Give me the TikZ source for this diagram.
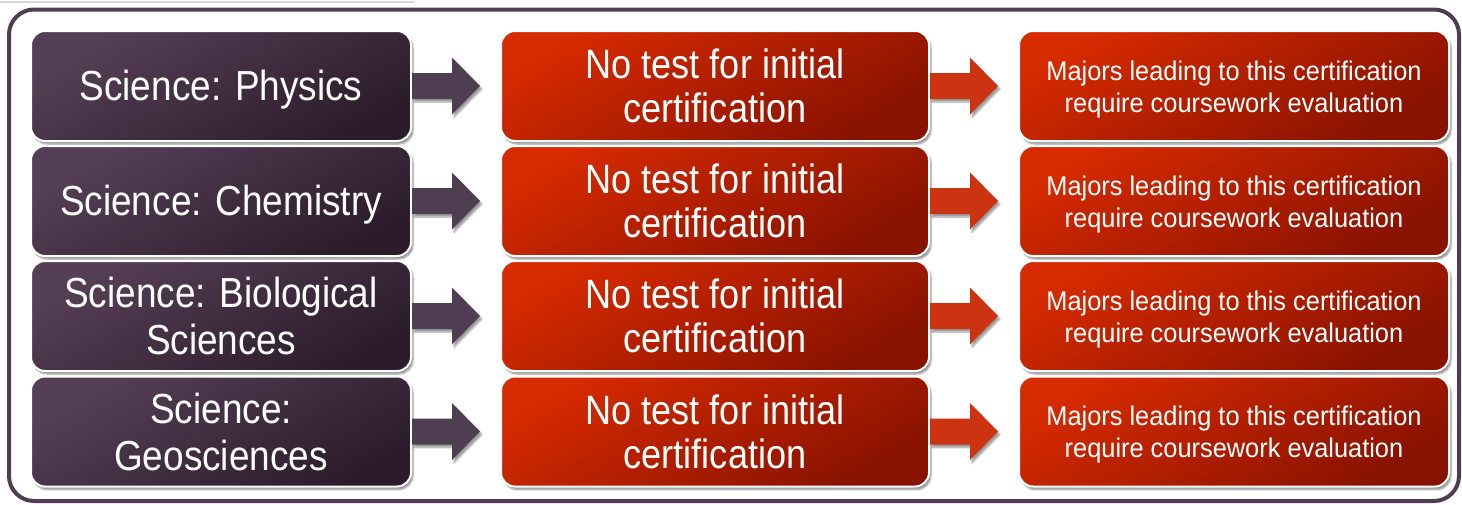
\documentclass[tikz,border=0pt]{standalone}
\usepackage{fontspec}
\newfontfamily\boxfont{Liberation Sans}[FakeStretch=0.88]
\newfontfamily\notefont{Liberation Sans}[FakeStretch=0.94]
\usepackage{tikz}
\usetikzlibrary{positioning}
\usetikzlibrary{calc}
\usetikzlibrary{shadows.blur}

\definecolor{plumLight}{HTML}{553F56}
\definecolor{plumDark}{HTML}{2C1C2B}
\definecolor{rustLight}{HTML}{D62A00}
\definecolor{rustDark}{HTML}{881200}
\definecolor{plumArrow}{HTML}{4F3D51}
\definecolor{rustArrow}{HTML}{CC3311}

\newcommand{\topstrut}{\rule{0pt}{26pt}}

\tikzset{
  card/.style={draw=white, line width=2pt, rounded corners=14pt,
    minimum height=110pt, text=white, align=center, inner sep=0pt,
    blur shadow={shadow xshift=2pt, shadow yshift=-3pt, shadow opacity=45, shadow blur steps=6}},
  subject/.style={card, minimum width=380pt, top color=plumLight, bottom color=plumDark,
    shading angle=30, font=\boxfont\fontsize{42}{47}\selectfont},
  oneline/.style={execute at begin node=\rule{0pt}{37pt}},
  testbox/.style={card, minimum width=428pt, top color=rustLight, bottom color=rustDark,
    shading angle=30, font=\boxfont\fontsize{41}{44}\selectfont},
  evalbox/.style={card, minimum width=430pt, top color=rustLight, bottom color=rustDark,
    shading angle=30, font=\notefont\fontsize{27}{32}\selectfont},
  blockarrow/.style={blur shadow={shadow xshift=2pt, shadow yshift=-3pt, shadow opacity=40, shadow blur steps=5}}
}

\begin{document}
\begin{tikzpicture}[x=1pt,y=-1pt]
 \useasboundingbox (0,0) rectangle (1462,504);

 % faint edge above the frame
 \draw[gray!30, line width=1.5pt, line cap=round] (0,2) -- (414,2);

 % outer frame
 \draw[plumArrow, line width=4pt, rounded corners=25pt] (9,9.5) rectangle (1459,501);

 % first column: subjects
 \node[subject, oneline] (sub1) at (221,86) {Science: Physics};
 \node[subject, oneline, below=3pt of sub1] (sub2) {Science: Chemistry};
 \node[subject, below=3pt of sub2] (sub3) {Science: Biological\\Sciences};
 \node[subject, below=3.5pt of sub3] (sub4) {Science:\\Geosciences};

 % second and third columns
 \foreach \r in {1,...,4}{
  \node[testbox, right=88pt of sub\r] (test\r) {No test for initial\\certification};
  \node[evalbox, right=88pt of test\r] (eval\r) {\topstrut Majors leading to this certification\\require coursework evaluation};
 }

 % block arrows
 \foreach \r in {1,...,4}{
  \fill[plumArrow, blockarrow] ($(sub\r.east)+(0,-13)$) -- ++(40,0) -- ++(0,-15.5)
    -- ($(sub\r.east)+(68,0)$) -- ($(sub\r.east)+(40,28.5)$) -- ++(0,-15.5)
    -- ($(sub\r.east)+(0,13)$) -- cycle;
  \fill[rustArrow, blockarrow] ($(test\r.east)+(0,-13)$) -- ++(40,0) -- ++(0,-15.5)
    -- ($(test\r.east)+(68,0)$) -- ($(test\r.east)+(40,28.5)$) -- ++(0,-15.5)
    -- ($(test\r.east)+(0,13)$) -- cycle;
 }

\end{tikzpicture}
\end{document}
